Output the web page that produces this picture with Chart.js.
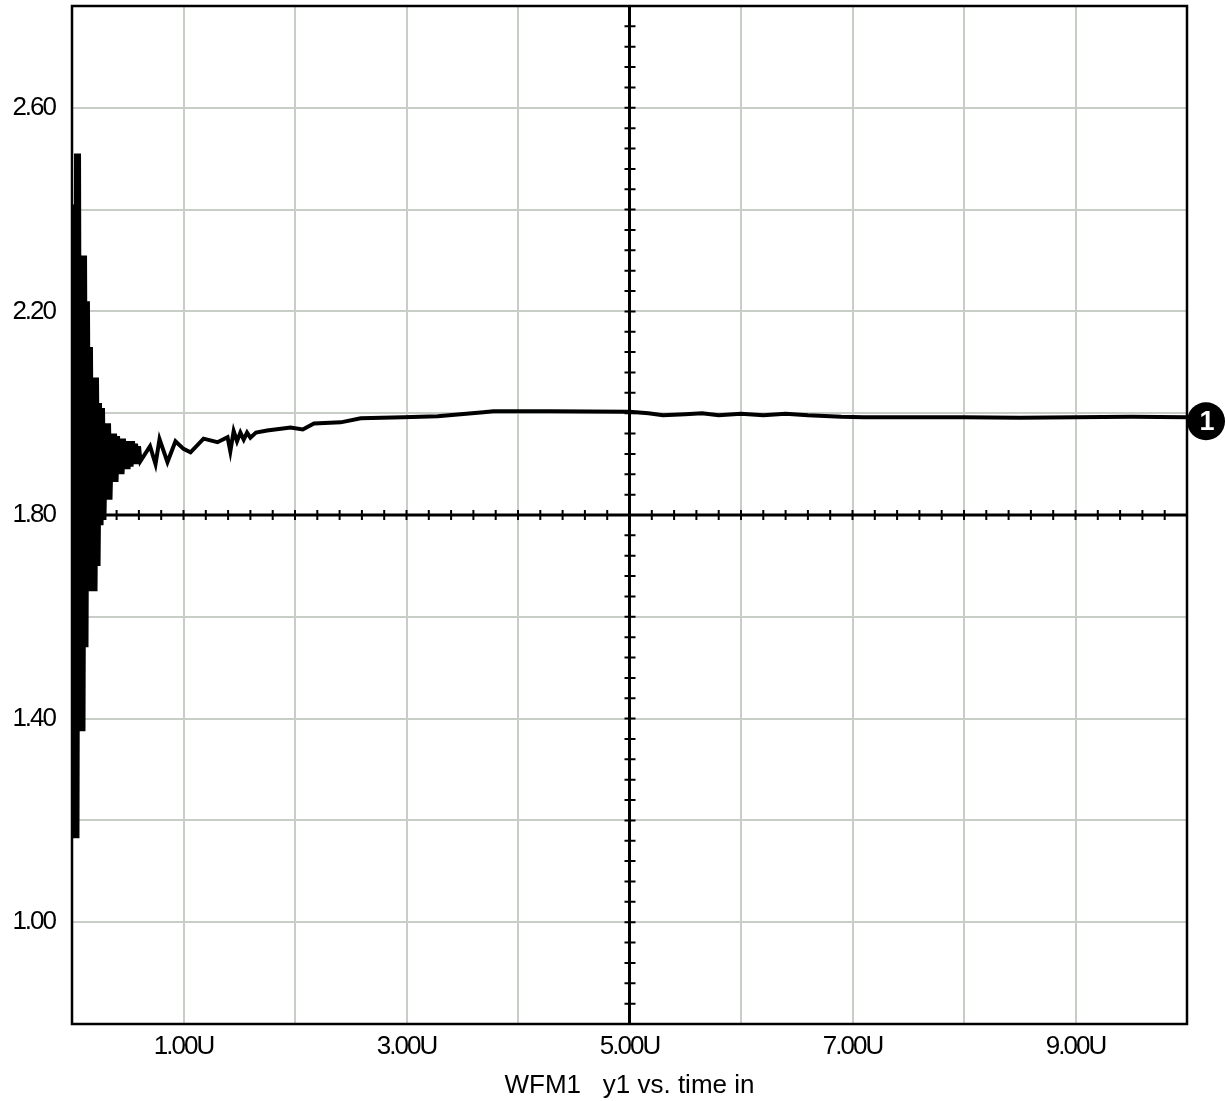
<!DOCTYPE html>
<html>
<head>
<meta charset="utf-8">
<script src="https://cdn.jsdelivr.net/npm/chart.js@4/dist/chart.umd.min.js"></script>
<style>
html,body{margin:0;padding:0;background:#fff;}
#wrap{width:1225px;height:1101px;position:relative;}
</style>
</head>
<body>
<div id="wrap"><canvas id="c" width="1225" height="1101"></canvas></div>
<script>
// Time axis (units of U) and signal values
const timeU = [
  0.009,0.022,0.036,0.049,0.063,0.076,0.090,0.103,0.117,0.130,
  0.143,0.157,0.170,0.184,0.197,0.211,0.224,0.238,0.251,0.265,
  0.278,0.291,0.305,0.318,0.332,0.345,0.359,0.372,0.386,0.399,
  0.413,0.426,0.439,0.453,0.466,0.480,0.493,0.507,0.520,0.534,
  0.547,0.561,0.574,0.587,0.601,0.614,
  0.70,0.749,0.785,0.856,0.928,1.00,1.063,1.18,1.305,1.395,
  1.42,1.45,1.48,1.51,1.54,1.57,1.60,1.65,1.75,1.96,
  2.07,2.17,2.41,2.59,2.97,3.28,3.69,3.78,4.29,5.00,
  5.17,5.30,5.50,5.65,5.80,6.00,6.20,6.40,6.60,6.90,
  7.10,7.50,8.00,8.50,9.00,9.50,10.00
];
const y1 = [
  2.41,1.165,2.51,1.165,2.51,1.375,2.31,1.375,2.31,1.54,
  2.22,1.65,2.13,1.65,2.07,1.65,2.07,1.70,2.02,1.78,
  2.01,1.79,1.98,1.83,1.98,1.83,1.96,1.865,1.96,1.865,
  1.955,1.88,1.95,1.88,1.95,1.89,1.945,1.89,1.945,1.895,
  1.945,1.90,1.94,1.90,1.935,1.906,
  1.935,1.90,1.949,1.904,1.945,1.93,1.923,1.95,1.943,1.953,
  1.925,1.965,1.945,1.962,1.948,1.962,1.952,1.962,1.966,1.972,
  1.968,1.98,1.982,1.99,1.992,1.994,2.002,2.004,2.004,2.003,
  2.000,1.996,1.998,2.000,1.996,1.999,1.996,1.999,1.996,1.993,
  1.992,1.992,1.992,1.991,1.992,1.993,1.992
];
const xTickLabels = {1:'1.00U',3:'3.00U',5:'5.00U',7:'7.00U',9:'9.00U'};
const yTickLabels = ['1.00','1.40','1.80','2.20','2.60'];
const xTitle = 'WFM1   y1 vs. time in';
const traceName = '1';

const points = timeU.map((t,i)=>({x:t,y:y1[i]}));

// pick a narrow font if available
function hasFont(name){
  const c = document.createElement('canvas').getContext('2d');
  c.font = "40px monospace"; const a = c.measureText('abcdefWM1.0').width;
  c.font = "40px '" + name + "', monospace"; const b = c.measureText('abcdefWM1.0').width;
  return Math.abs(a-b) > 0.5;
}
const NARROW = hasFont('Liberation Sans Narrow');
const REG = "'Liberation Sans', Arial, sans-serif";
const FONT = NARROW ? "'Liberation Sans Narrow', " + REG : REG;
const FSIZE = NARROW ? 28 : 26;
const LSP = NARROW ? '0px' : '-2px';
const gridColor = '#c6cec6';

const decor = {
  id:'decor',
  afterLayout(chart){
    const xs = chart.scales.x;
    if (!xs._wrappedTitle) {
      const orig = xs.drawTitle;
      xs.drawTitle = function(){
        const ctx = this.ctx;
        const prev = ctx.letterSpacing;
        ctx.letterSpacing = '0px';
        orig.apply(this, arguments);
        ctx.letterSpacing = prev;
      };
      xs._wrappedTitle = true;
    }
  },
  beforeDraw(chart){
    chart.ctx.letterSpacing = LSP;
  },
  beforeDatasetsDraw(chart){
    const {ctx, chartArea:a, scales:{x,y}} = chart;
    const cx = x.getPixelForValue(5), cy = y.getPixelForValue(1.8);
    ctx.save();
    ctx.strokeStyle = '#000';
    ctx.lineWidth = 3;
    ctx.beginPath();
    ctx.moveTo(a.left, cy); ctx.lineTo(a.right, cy);
    ctx.moveTo(cx, a.top); ctx.lineTo(cx, a.bottom);
    ctx.stroke();
    ctx.lineWidth = 2;
    ctx.beginPath();
    for (let k = 1; k < 50; k++) {
      const px = x.getPixelForValue(k*0.2);
      ctx.moveTo(px, cy-5); ctx.lineTo(px, cy+5);
    }
    for (let k = 1; k < 50; k++) {
      const py = y.getPixelForValue(0.8 + k*0.04);
      ctx.moveTo(cx-5, py); ctx.lineTo(cx+6, py);
    }
    ctx.stroke();
    ctx.restore();
  },
  afterDraw(chart){
    const {ctx, chartArea:a, scales:{y}} = chart;
    ctx.save();
    ctx.strokeStyle = '#000';
    ctx.lineWidth = 2.5;
    ctx.strokeRect(a.left, a.top, a.right-a.left, a.bottom-a.top);
    // trace marker
    const last = y1[y1.length-1];
    const my = y.getPixelForValue(last) + 4;
    const mx = a.right + 19;
    ctx.fillStyle = '#000';
    ctx.beginPath();
    ctx.arc(mx, my, 19, 0, Math.PI*2);
    ctx.fill();
    ctx.letterSpacing = '0px';
    ctx.fillStyle = '#fff';
    ctx.font = "bold 27px " + REG;
    ctx.textAlign = 'center';
    ctx.textBaseline = 'middle';
    ctx.fillText(traceName, mx+1, my+1);
    ctx.restore();
  }
};

new Chart(document.getElementById('c'), {
  type:'line',
  data:{datasets:[{
    data:points,
    borderColor:'#000',
    borderWidth:4,
    pointRadius:0,
    tension:0,
    fill:false
  }]},
  options:{
    responsive:false,
    animation:false,
    events:[],
    layout:{padding:{top:6,right:38,left:0,bottom:0}},
    plugins:{legend:{display:false},tooltip:{enabled:false}},
    scales:{
      x:{
        type:'linear', min:0, max:10,
        grid:{color:gridColor, lineWidth:2, drawTicks:false},
        border:{display:false},
        ticks:{
          stepSize:1, autoSkip:false, maxRotation:0, padding:7,
          color:'#000', font:{family:FONT, size:FSIZE},
          callback:(v)=> xTickLabels[Math.round(v)] || ''
        },
        title:{display:true, text:xTitle, color:'#000', font:{family:REG, size:26}, padding:{top:0,bottom:0}},
        afterFit(s){ s.height = 77; s.paddingLeft = 0; s.paddingRight = 0; }
      },
      y:{
        type:'linear', min:0.8, max:2.8,
        grid:{color:gridColor, lineWidth:2, drawTicks:false},
        border:{display:false},
        ticks:{
          stepSize:0.2, autoSkip:false, padding:17,
          color:'#000', font:{family:FONT, size:FSIZE},
          callback:(v,i)=> (i%2===1) ? yTickLabels[(i-1)/2] : ''
        },
        afterFit(s){ s.width = 72; s.paddingTop = 0; s.paddingBottom = 0; }
      }
    }
  },
  plugins:[decor]
});
</script>
</body>
</html>
